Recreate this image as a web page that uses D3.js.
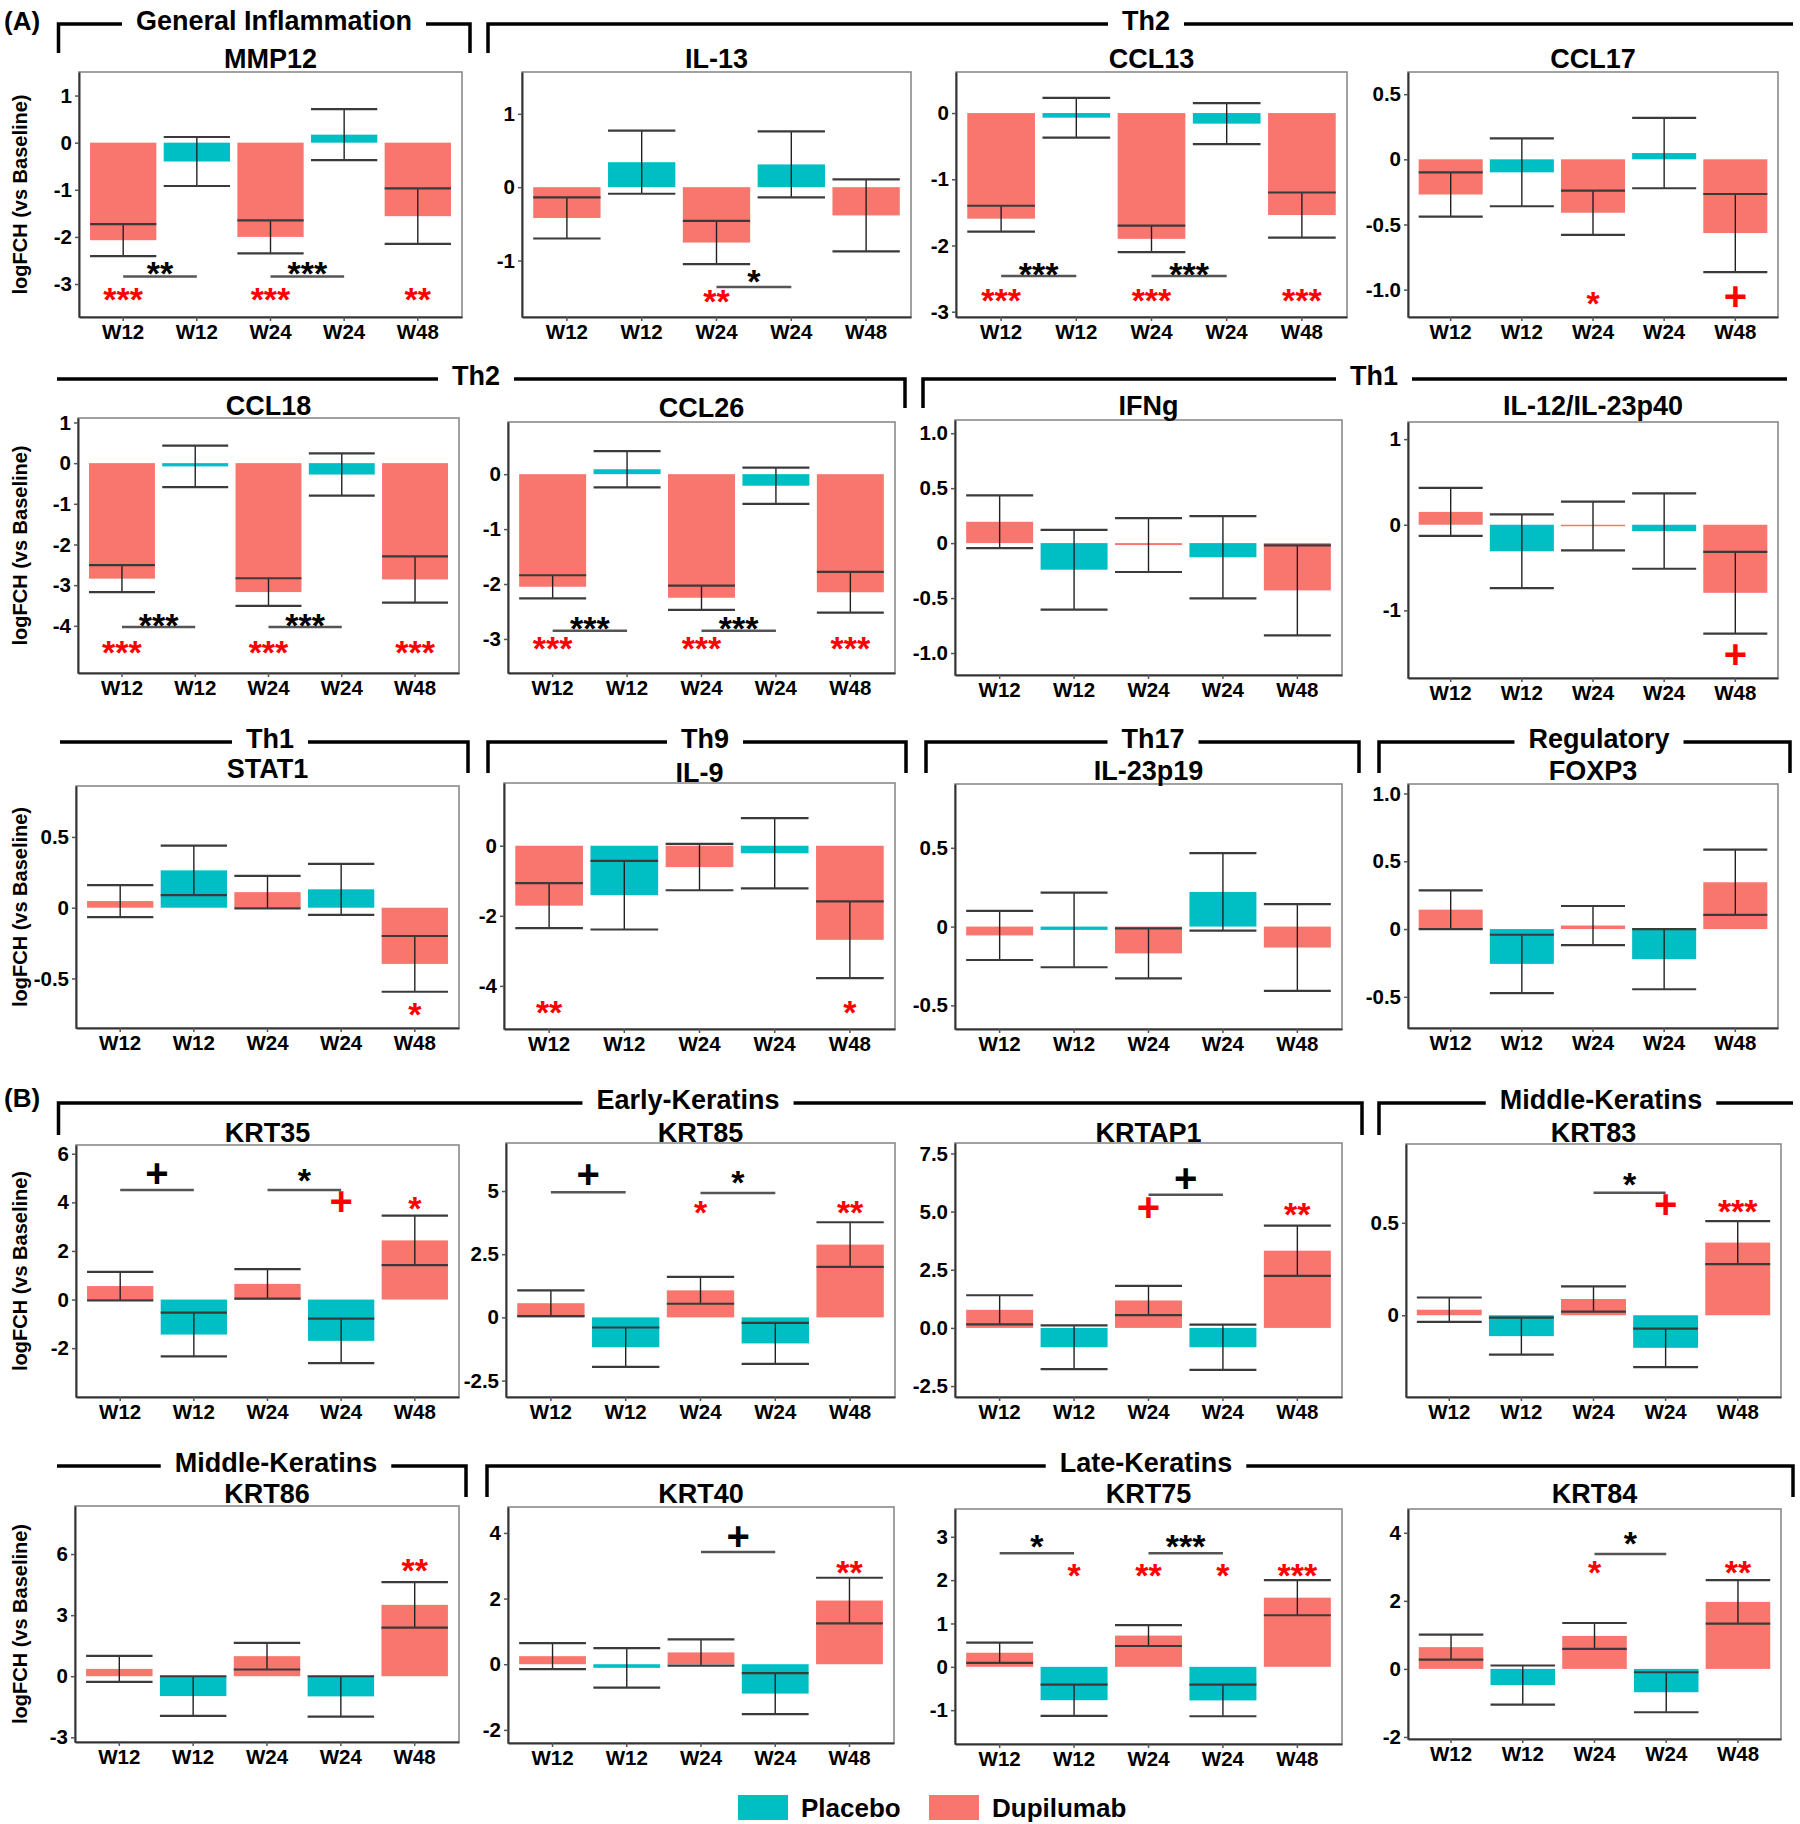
<!DOCTYPE html>
<html>
<head>
<meta charset="utf-8">
<script src="https://cdn.jsdelivr.net/npm/d3@7"></script>
<style>
  body { margin: 0; background: #fff; }
  text { font-family: "Liberation Sans", Arial, sans-serif; font-weight: bold; }
</style>
</head>
<body>
<svg id="chart"></svg>
<script>
const WIDTH = 1800;
const HEIGHT = 1824;

// ---- data ----
const genes = ['MMP12', 'IL-13', 'CCL13', 'CCL17',
               'CCL18', 'CCL26', 'IFNg', 'IL-12/IL-23p40',
               'STAT1', 'IL-9', 'IL-23p19', 'FOXP3',
               'KRT35', 'KRT85', 'KRTAP1', 'KRT83',
               'KRT86', 'KRT40', 'KRT75', 'KRT84'];

const timepoints = ['W12', 'W12', 'W24', 'W24', 'W48'];
const treatment = ['Dupilumab', 'Placebo', 'Dupilumab', 'Placebo', 'Dupilumab'];

// mean logFCH vs baseline, one row per gene, in timepoint order
const meanFCH = [
  [-2.07, -0.40, -2.00, 0.17, -1.56],
  [-0.42, 0.34, -0.755, 0.31, -0.385],
  [-1.595, -0.07, -1.90, -0.16, -1.54],
  [-0.27, -0.10, -0.41, 0.048, -0.566],
  [-2.84, -0.08, -3.17, -0.28, -2.86],
  [-2.05, 0.09, -2.25, -0.21, -2.15],
  [0.194, -0.242, -0.018, -0.129, -0.43],
  [0.15, -0.31, -0.015, -0.074, -0.795],
  [0.047, 0.264, 0.11, 0.13, -0.397],
  [-1.71, -1.41, -0.61, -0.215, -2.685],
  [-0.056, -0.021, -0.17, 0.22, -0.133],
  [0.143, -0.257, 0.026, -0.222, 0.345],
  [0.555, -1.44, 0.645, -1.70, 2.435],
  [0.56, -1.18, 1.07, -1.03, 2.88],
  [0.78, -0.83, 1.18, -0.83, 3.32],
  [0.03, -0.113, 0.088, -0.176, 0.393],
  [0.36, -0.975, 0.985, -0.99, 3.505],
  [0.245, -0.11, 0.36, -0.895, 1.94],
  [0.325, -0.77, 0.72, -0.775, 1.595],
  [0.64, -0.475, 0.97, -0.686, 1.97]
];

// error bar half width
const errFCH = [
  [0.34, 0.52, 0.35, 0.54, 0.59],
  [0.28, 0.43, 0.295, 0.45, 0.49],
  [0.195, 0.30, 0.20, 0.31, 0.34],
  [0.17, 0.26, 0.17, 0.27, 0.30],
  [0.33, 0.51, 0.34, 0.52, 0.57],
  [0.21, 0.33, 0.22, 0.33, 0.37],
  [0.24, 0.363, 0.245, 0.374, 0.41],
  [0.28, 0.43, 0.285, 0.44, 0.477],
  [0.113, 0.175, 0.115, 0.18, 0.197],
  [0.64, 0.98, 0.66, 1.0, 1.095],
  [0.156, 0.237, 0.159, 0.246, 0.275],
  [0.143, 0.215, 0.144, 0.222, 0.241],
  [0.585, 0.90, 0.605, 0.915, 1.015],
  [0.51, 0.78, 0.53, 0.81, 0.885],
  [0.625, 0.94, 0.63, 0.97, 1.08],
  [0.066, 0.10, 0.068, 0.104, 0.116],
  [0.64, 0.975, 0.655, 0.99, 1.115],
  [0.395, 0.60, 0.40, 0.625, 0.695],
  [0.235, 0.36, 0.24, 0.365, 0.405],
  [0.37, 0.575, 0.38, 0.588, 0.64]
];

const yLimits = [
  [-3.7, 1.5], [-1.77, 1.57], [-3.08, 0.62], [-1.21, 0.67],
  [-5.16, 1.11], [-3.62, 0.95], [-1.2, 1.12], [-1.79, 1.2],
  [-0.85, 0.86], [-5.23, 1.79], [-0.65, 0.905], [-0.73, 1.07],
  [-4.01, 6.36], [-3.15, 6.9], [-2.97, 7.95], [-0.442, 0.926],
  [-3.23, 8.36], [-2.40, 4.79], [-1.78, 3.64], [-2.06, 4.7]
];

const yTickLabels = [
  ['1', '0', '-1', '-2', '-3'], ['1', '0', '-1'], ['0', '-1', '-2', '-3'], ['0.5', '0', '-0.5', '-1.0'],
  ['1', '0', '-1', '-2', '-3', '-4'], ['0', '-1', '-2', '-3'], ['1.0', '0.5', '0', '-0.5', '-1.0'], ['1', '0', '-1'],
  ['0.5', '0', '-0.5'], ['0', '-2', '-4'], ['0.5', '0', '-0.5'], ['1.0', '0.5', '0', '-0.5'],
  ['6', '4', '2', '0', '-2'], ['5', '2.5', '0', '-2.5'], ['7.5', '5.0', '2.5', '0.0', '-2.5'], ['0.5', '0'],
  ['6', '3', '0', '-3'], ['4', '2', '0', '-2'], ['3', '2', '1', '0', '-1'], ['4', '2', '0', '-2']
];

// significance vs baseline (red), one label per bar
const redSig = [
  ['***', '', '***', '', '**'], ['', '', '**', '', ''], ['***', '', '***', '', '***'], ['', '', '*', '', '+'],
  ['***', '', '***', '', '***'], ['***', '', '***', '', '***'], ['', '', '', '', ''], ['', '', '', '', '+'],
  ['', '', '', '', '*'], ['**', '', '', '', '*'], ['', '', '', '', ''], ['', '', '', '', ''],
  ['', '', '', '+', '*'], ['', '', '*', '', '**'], ['', '', '+', '', '**'], ['', '', '', '+', '***'],
  ['', '', '', '', '**'], ['', '', '', '', '**'], ['', '*', '**', '*', '***'], ['', '', '*', '', '**']
];
const redSigY = [-3.16, -1.45, -2.71, -1.05, -4.47, -3.04, 0, -1.51,
                 -0.70, -4.54, 0, 0, 4.04, 4.46, 5.2, 0.6, 5.57, 3.02, 2.28, 3.05];

// dupilumab vs placebo comparisons: [gene, barA, barB, label, lineY, labelY]
const pairSig = [
  [0, 0, 1, '**', -2.84, -2.62], [0, 2, 3, '***', -2.84, -2.62],
  [1, 2, 3, '*', -1.36, -1.18],
  [2, 0, 1, '***', -2.46, -2.32], [2, 2, 3, '***', -2.46, -2.32],
  [4, 0, 1, '***', -4.03, -3.81], [4, 2, 3, '***', -4.03, -3.81],
  [5, 0, 1, '***', -2.85, -2.67], [5, 2, 3, '***', -2.85, -2.67],
  [12, 0, 1, '+', 4.51, 5.2], [12, 2, 3, '*', 4.51, 5.2],
  [13, 0, 1, '+', 4.95, 5.65], [13, 2, 3, '*', 4.92, 5.65],
  [14, 2, 3, '+', 5.72, 6.44],
  [15, 2, 3, '*', 0.662, 0.75],
  [17, 2, 3, '+', 3.42, 3.9],
  [18, 0, 1, '*', 2.62, 2.96], [18, 2, 3, '***', 2.62, 2.96],
  [19, 2, 3, '*', 3.38, 3.9]
];

const groupLabels = ['General Inflammation', 'Th2', 'Th2', 'Th1', 'Th1', 'Th9', 'Th17', 'Regulatory',
                     'Early-Keratins', 'Middle-Keratins', 'Middle-Keratins', 'Late-Keratins'];

// ---- layout ----
// panel boxes [x0, x1, y0, y1]
const boxes = [
  [79, 462, 72, 317], [522, 911, 72, 317], [956, 1347, 72, 317], [1408, 1778, 72, 317],
  [78, 459, 418, 673], [508, 895, 422, 673], [955, 1342, 420, 675], [1408, 1778, 422, 678],
  [76, 459, 786, 1028], [504, 895, 783, 1029], [955, 1342, 784, 1029], [1408, 1778, 784, 1028],
  [76, 459, 1145, 1397], [506, 895, 1143, 1397], [955, 1342, 1143, 1397], [1406, 1781, 1144, 1397],
  [75, 459, 1506, 1742], [508, 894, 1507, 1743], [955, 1342, 1509, 1744], [1408, 1781, 1509, 1739]
];
const titleY = [58, 58, 58, 58, 405, 407, 405, 405, 768, 772, 770, 770,
                1132, 1132, 1132, 1132, 1493, 1493, 1493, 1493];

// header brackets: [x0, x1, textCx, lineY, dropY, leftTick, rightTick]
const headerPos = [
  [58.5, 470, 274, 24, 53, true, true],
  [488, 1793, 1146, 24, 53, true, false],
  [57, 905, 476, 379, 408, false, true],
  [923, 1787, 1374, 379, 408, true, false],
  [60, 468, 270, 742, 773, false, true],
  [488, 906, 705, 742, 773, true, true],
  [926, 1359, 1153, 742, 773, true, true],
  [1379, 1790, 1599, 742, 773, true, true],
  [58.5, 1362, 688, 1103, 1135, true, true],
  [1379, 1793, 1601, 1103, 1135, true, false],
  [57, 466, 276, 1466, 1497, false, true],
  [487, 1793, 1146, 1466, 1497, true, true]
];

const COLORS = { Dupilumab: '#F8766D', Placebo: '#00BFC4' };

const svg = d3.select('#chart')
  .attr('width', WIDTH)
  .attr('height', HEIGHT);

svg.append('rect')
  .attr('width', WIDTH)
  .attr('height', HEIGHT)
  .attr('fill', '#fff');

// baseline offset so that the visual centre of a symbol sits on y
function sigBaseline(label, y, size) {
  return label.indexOf('+') >= 0 ? y + size * 0.34 : y + size * 0.56;
}
function sigSize(label) {
  return label.indexOf('+') >= 0 ? 40 : 34;
}

genes.forEach((gene, g) => {
  const [x0, x1, y0, y1] = boxes[g];

  const x = d3.scaleBand()
    .domain(d3.range(5))
    .range([x0, x1])
    .paddingInner(0.1)
    .paddingOuter(0.15);

  const y = d3.scaleLinear()
    .domain(yLimits[g])
    .range([y1, y0]);

  const panel = svg.append('g').attr('class', 'panel');

  // panel border
  panel.append('rect')
    .attr('x', x0).attr('y', y0)
    .attr('width', x1 - x0).attr('height', y1 - y0)
    .attr('fill', 'none')
    .attr('stroke', '#8a8a8a')
    .attr('stroke-width', 1.6);

  // bars
  panel.selectAll('rect.bar')
    .data(meanFCH[g])
    .enter().append('rect')
      .attr('class', 'bar')
      .attr('x', (d, i) => x(i))
      .attr('width', x.bandwidth())
      .attr('y', d => y(Math.max(0, d)))
      .attr('height', d => Math.max(1.5, Math.abs(y(d) - y(0))))
      .attr('fill', (d, i) => COLORS[treatment[i]]);

  // error bars
  const eb = panel.selectAll('g.err')
    .data(meanFCH[g])
    .enter().append('g')
      .attr('class', 'err');
  eb.append('line')
    .attr('x1', (d, i) => x(i) + x.bandwidth() / 2)
    .attr('x2', (d, i) => x(i) + x.bandwidth() / 2)
    .attr('y1', (d, i) => y(d + errFCH[g][i]))
    .attr('y2', (d, i) => y(d - errFCH[g][i]))
    .attr('stroke', '#222')
    .attr('stroke-width', 1.4);
  [1, -1].forEach(sign => {
    eb.append('line')
      .attr('x1', (d, i) => x(i))
      .attr('x2', (d, i) => x(i) + x.bandwidth())
      .attr('y1', (d, i) => y(d + sign * errFCH[g][i]))
      .attr('y2', (d, i) => y(d + sign * errFCH[g][i]))
      .attr('stroke', '#3a3a3a')
      .attr('stroke-width', 2.2);
  });

  // axes
  const yAxis = d3.axisLeft(y)
    .tickValues(yTickLabels[g].map(Number))
    .tickFormat((d, i) => yTickLabels[g][i])
    .tickSize(4)
    .tickSizeOuter(0)
    .tickPadding(3);
  const xAxis = d3.axisBottom(x)
    .tickFormat(i => timepoints[i])
    .tickSize(4)
    .tickSizeOuter(0)
    .tickPadding(3);

  const ya = panel.append('g')
    .attr('transform', `translate(${x0},0)`)
    .call(yAxis);
  const xa = panel.append('g')
    .attr('transform', `translate(0,${y1})`)
    .call(xAxis);
  [ya, xa].forEach(a => {
    a.select('.domain').attr('stroke', '#333').attr('stroke-width', 2);
    a.selectAll('.tick line').attr('stroke', '#555').attr('stroke-width', 1.5);
    a.selectAll('.tick text')
      .attr('fill', '#000')
      .style('font-size', '20.5px')
      .style('font-family', '"Liberation Sans", Arial, sans-serif')
      .style('font-weight', 'bold');
  });

  // gene title
  panel.append('text')
    .attr('x', (x0 + x1) / 2)
    .attr('y', titleY[g] + 10)
    .attr('text-anchor', 'middle')
    .style('font-size', '27px')
    .text(gene);

  // red significance vs baseline
  redSig[g].forEach((lab, i) => {
    if (!lab) return;
    const size = sigSize(lab);
    panel.append('text')
      .attr('x', x(i) + x.bandwidth() / 2)
      .attr('y', sigBaseline(lab, y(redSigY[g]), size))
      .attr('text-anchor', 'middle')
      .attr('fill', '#ff0000')
      .style('font-size', size + 'px')
      .text(lab);
  });
});

// comparison brackets between dupilumab and placebo
pairSig.forEach(([g, a, b, lab, lineY, labY]) => {
  const [x0, x1, y0, y1] = boxes[g];
  const x = d3.scaleBand().domain(d3.range(5)).range([x0, x1])
    .paddingInner(0.1).paddingOuter(0.15);
  const y = d3.scaleLinear().domain(yLimits[g]).range([y1, y0]);
  const xa = x(a) + x.bandwidth() / 2;
  const xb = x(b) + x.bandwidth() / 2;
  const size = sigSize(lab);
  svg.append('line')
    .attr('x1', xa).attr('x2', xb)
    .attr('y1', y(lineY)).attr('y2', y(lineY))
    .attr('stroke', '#555')
    .attr('stroke-width', 2.5);
  svg.append('text')
    .attr('x', (xa + xb) / 2)
    .attr('y', sigBaseline(lab, y(labY), size))
    .attr('text-anchor', 'middle')
    .attr('fill', '#000')
    .style('font-size', size + 'px')
    .text(lab);
});

// y axis titles for the first column
[0, 4, 8, 12, 16].forEach(g => {
  const [x0, x1, y0, y1] = boxes[g];
  svg.append('text')
    .attr('transform', `translate(${27},${(y0 + y1) / 2}) rotate(-90)`)
    .attr('text-anchor', 'middle')
    .style('font-size', '20px')
    .text('logFCH (vs Baseline)');
});

// group header brackets
groupLabels.forEach((label, k) => {
  const [hx0, hx1, cx, ly, dropY, left, right] = headerPos[k];
  const t = svg.append('text')
    .attr('x', cx)
    .attr('y', ly + 6)
    .attr('text-anchor', 'middle')
    .style('font-size', '27px')
    .text(label);
  const half = t.node().getComputedTextLength() / 2 + 14;
  const path = d3.path();
  if (left) { path.moveTo(hx0, dropY); path.lineTo(hx0, ly); }
  else path.moveTo(hx0, ly);
  path.lineTo(cx - half, ly);
  path.moveTo(cx + half, ly);
  path.lineTo(hx1, ly);
  if (right) path.lineTo(hx1, dropY);
  svg.append('path')
    .attr('d', path.toString())
    .attr('fill', 'none')
    .attr('stroke', '#000')
    .attr('stroke-width', 3.5);
});

// panel letters
svg.append('text').attr('x', 4).attr('y', 30).style('font-size', '26px').text('(A)');
svg.append('text').attr('x', 4).attr('y', 1107).style('font-size', '26px').text('(B)');

// legend
const legend = svg.append('g');
[['Placebo', 738, 801], ['Dupilumab', 929, 992]].forEach(([name, sx, tx]) => {
  legend.append('rect')
    .attr('x', sx).attr('y', 1795)
    .attr('width', 50).attr('height', 25)
    .attr('fill', COLORS[name]);
  legend.append('text')
    .attr('x', tx).attr('y', 1817)
    .style('font-size', '26px')
    .text(name);
});
</script>
</body>
</html>
